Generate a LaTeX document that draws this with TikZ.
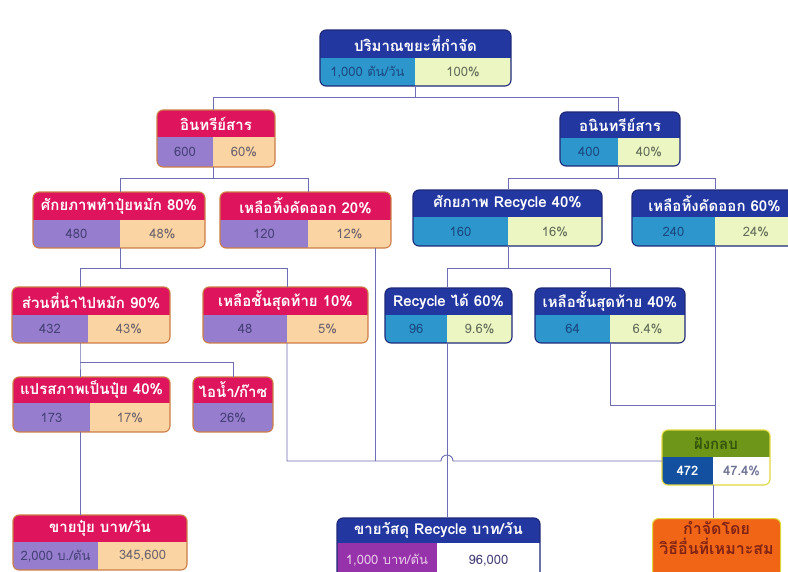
\documentclass[tikz,border=0pt]{standalone}
\usepackage{fontspec}
\setmainfont[Script=Thai]{Loma}
\usetikzlibrary{calc}
\definecolor{pkH}{RGB}{222,20,92}
\definecolor{pkL}{RGB}{150,125,205}
\definecolor{pkR}{RGB}{250,212,162}
\definecolor{pkB}{RGB}{205,125,70}
\definecolor{blH}{RGB}{35,55,160}
\definecolor{blL}{RGB}{45,150,205}
\definecolor{blR}{RGB}{236,246,194}
\definecolor{blB}{RGB}{30,40,120}
\definecolor{lnC}{RGB}{110,110,180}
\definecolor{pkT}{RGB}{70,65,120}
\definecolor{pkRT}{RGB}{110,100,110}
\definecolor{blT}{RGB}{25,75,130}
\definecolor{blRT}{RGB}{100,110,90}
\definecolor{srL}{RGB}{150,50,170}
\definecolor{grH}{RGB}{110,150,25}
\definecolor{grT}{RGB}{50,85,10}
\definecolor{grL}{RGB}{20,80,160}
\definecolor{grB}{RGB}{225,215,60}
\definecolor{orF}{RGB}{240,102,22}
\definecolor{orT}{RGB}{130,35,20}
\tikzset{
  cell/.style={inner sep=0pt, outer sep=0pt, font=\fontsize{13}{15}\selectfont},
  hcell/.style={inner sep=0pt, outer sep=0pt, text=white, font=\bfseries\fontsize{15}{17}\selectfont},
  pkH/.style={hcell, fill=pkH},
  pkL/.style={cell, fill=pkL, text=pkT},
  pkR/.style={cell, fill=pkR, text=pkRT},
  pkB/.style={draw=pkB, line width=1.1pt},
  blH/.style={hcell, fill=blH},
  blL/.style={cell, fill=blL, text=blT},
  blR/.style={cell, fill=blR, text=blRT},
  blB/.style={draw=blB, line width=1.1pt},
  srH/.style={hcell, fill=blH},
  srL/.style={cell, fill=srL, text={rgb,255:red,235;green,200;blue,235}},
  srR/.style={cell, fill=white, text=pkT},
  srB/.style={draw=blB, line width=1.1pt},
  grH/.style={hcell, fill=grH, text=grT},
  grL/.style={cell, fill=grL, text=white, font=\bfseries\fontsize{13}{15}\selectfont},
  grR/.style={cell, fill=white, text={rgb,255:red,110;green,115;blue,150}, font=\bfseries\fontsize{13}{15}\selectfont},
  grB/.style={draw=grB, line width=1.1pt},
  conn/.style={draw=lnC, line width=0.9pt},
}
% #1 name, #2 scheme, #3 x1/y1/x2/y2/xsplit/headerheight, #4 header, #5 left, #6 right
\newcommand\mkbox[6]{%
  \foreach \xa/\ya/\xb/\yb/\xs/\hh in {#3}{%
    \begin{scope}
      \clip[rounded corners=6pt] (\xa,\ya) rectangle (\xb,\yb);
      \node[#2H, anchor=north west, minimum width={(\xb-\xa)*1pt}, minimum height={\hh*1pt}] (#1-h) at (\xa,\ya) {#4};
      \node[#2L, anchor=north west, minimum width={(\xs-\xa)*1pt}, minimum height={(\yb-\ya-\hh)*1pt}] (#1-l) at (#1-h.south west) {#5};
      \node[#2R, anchor=north west, minimum width={(\xb-\xs)*1pt}, minimum height={(\yb-\ya-\hh)*1pt}] (#1-r) at (#1-l.north east) {#6};
    \end{scope}
    \draw[#2B, rounded corners=6pt] (\xa,\ya) rectangle (\xb,\yb);
  }%
}
\begin{document}
\begin{tikzpicture}[x=1pt,y=-1pt]
\useasboundingbox[fill=white] (0,0) rectangle (788,571);
\mkbox{top}{bl}{320/30/511/86/415/28}{ปริมาณขยะที่กำจัด}{1,000 ตัน/วัน}{100\%}
\mkbox{org}{pk}{157/110/275/167/213/27}{อินทรีย์สาร}{600}{60\%}
\mkbox{inorg}{bl}{560/112/680/166/618/26}{อนินทรีย์สาร}{400}{40\%}
\mkbox{comp}{pk}{33/192/205/248/120/28}{ศักยภาพทำปุ๋ยหมัก 80\%}{480}{48\%}
\mkbox{rej20}{pk}{220/192/391/248/308/28}{เหลือทิ้งคัดออก 20\%}{120}{12\%}
\mkbox{rec40}{bl}{413/190/602/246/508/27}{ศักยภาพ Recycle 40\%}{160}{16\%}
\mkbox{rej60}{bl}{632/190/797/246/715/27}{เหลือทิ้งคัดออก 60\%}{240}{24\%}
\mkbox{send}{pk}{12/287/170/343/88/28}{ส่วนที่นำไปหมัก 90\%}{432}{43\%}
\mkbox{last}{pk}{203/287/368/343/287/28}{เหลือชั้นสุดท้าย 10\%}{48}{5\%}
\mkbox{rec60}{bl}{385/288/512/343/447/27}{Recycle ได้ 60\%}{96}{9.6\%}
\mkbox{last40}{bl}{535/288/685/343/610/27}{เหลือชั้นสุดท้าย 40\%}{64}{6.4\%}
\mkbox{conv}{pk}{13/377/170/432/90/26}{แปรสภาพเป็นปุ๋ย 40\%}{173}{17\%}
\mkbox{steam}{pk}{193/377/273/432/273/26}{ไอน้ำ/ก๊าซ}{26\%}{}
\mkbox{fill}{gr}{662/430/770/485/713/27}{ฝังกลบ}{472}{47.4\%}
\mkbox{salef}{pk}{13/515/187/570/98/27}{ขายปุ๋ย บาท/วัน}{2,000 บ./ตัน}{345,600}
\mkbox{saler}{sr}{337/518/540/578/437/25}{ขายวัสดุ Recycle บาท/วัน}{1,000 บาท/ตัน}{96,000}
\node[draw=grB, line width=1.1pt, fill=orF, rounded corners=6pt, text=orT, anchor=north west,
  minimum width=128pt, minimum height=60pt, inner sep=0pt, align=center,
  font=\bfseries\fontsize{16}{20}\selectfont] (dispo) at (652,518) {กำจัดโดย\\วิธีอื่นที่เหมาะสม\\[2pt]};
% connectors
\draw[conn] (top-l.south east) -- ++(0,11) coordinate (j1) -| (org-h.north -| org-l.east);
\draw[conn] (j1) -| (inorg-h.north -| inorg-l.east);
\draw[conn] (org-l.south east) -- ++(0,11) coordinate (j2) -| (comp-h.north -| comp-l.east);
\draw[conn] (j2) -| (rej20-h.north -| rej20-l.east);
\draw[conn] (inorg-l.south east) -- ++(0,12) coordinate (j3) -| (rec40-h.north -| rec40-l.east);
\draw[conn] (j3) -| (rej60-h.north -| rej60-l.east);
\draw[conn] (comp-l.south east) -- ++(0,20) coordinate (j4) -| ($(send-h.north -| send-l.east)+(-8,0)$);
\draw[conn] (j4) -| (last-h.north -| last-l.east);
\draw[conn] (rec40-l.south east) -- ++(0,22) coordinate (j5) -| (rec60-h.north -| rec60-l.east);
\draw[conn] (j5) -| (last40-h.north -| last40-l.east);
\draw[conn] ($(send-l.south east)+(-8,0)$) -- ++(0,19) coordinate (j6) -| ($(conv-h.north -| conv-l.east)+(-10,0)$);
\draw[conn] (j6) -| (steam-h.north);
\draw[conn] ($(conv-l.south east)+(-10,0)$) -- ($(salef-h.north -| conv-l.east)+(-10,0)$);
\coordinate (busY) at ($(fill-h.south west)+(0,4)$);
\draw[conn] ($(rej20-r.south east)+(-16,0)$) -- ($(rej20-r.south east |- busY)+(-16,0)$);
\draw[conn] (last-l.south east) |- ($(rec60-l.south east |- busY)+(-6,0)$) arc (180:360:6) -- (busY);
\draw[conn] (rec60-l.south east) -- (saler-h.north -| rec60-l.east);
\draw[conn] (last40-l.south east) -- ++(0,62) coordinate (j7) -- (j7 -| rej60-l.east);
\draw[conn] (rej60-l.south east) -- (fill-h.north -| rej60-l.east);
\draw[conn] (fill-l.south east) -- (dispo.north -| fill-l.east);
\end{tikzpicture}
\end{document}
